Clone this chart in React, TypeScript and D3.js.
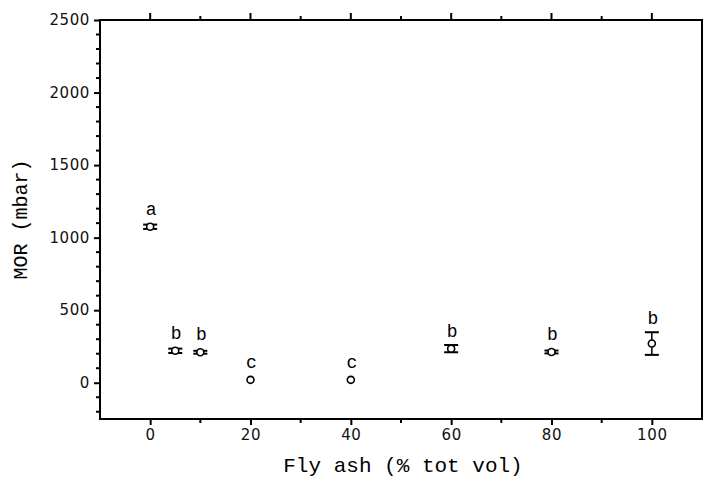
import React, { useEffect, useRef } from 'react'
import * as d3 from 'd3'

const flyAsh = [0, 5, 10, 20, 40, 60, 80, 100]
const mor = [1075, 220, 210, 20, 20, 235, 212, 270]
const err = [15, 15, 10, 0, 0, 25, 10, 78]
const groups = ['a', 'b', 'b', 'c', 'c', 'b', 'b', 'b']
const yTicks = [0, 500, 1000, 1500, 2000, 2500]
const xTicks = [0, 20, 40, 60, 80, 100]

const W = 704
const H = 481
const margin = { top: 20, right: 2, bottom: 62, left: 100 }

export default function App() {
  const svgNode = useRef<SVGSVGElement>(null)

  useEffect(() => {
    const svg = d3.select(svgNode.current)
    svg.selectAll('*').remove()

    const x = d3.scaleLinear().domain([-10, 110]).range([margin.left, W - margin.right])
    const y = d3.scaleLinear().domain([-250, 2500]).range([H - margin.bottom, margin.top])

    const x0 = margin.left, x1 = W - margin.right
    const y0 = H - margin.bottom, y1 = margin.top

    // frame
    svg.append('rect')
      .attr('x', x0).attr('y', y1)
      .attr('width', x1 - x0).attr('height', y0 - y1)
      .attr('fill', 'none').attr('stroke', '#000').attr('stroke-width', 2)

    // y axis
    const yAxis = d3.axisLeft(y).tickValues(yTicks).tickSize(6).tickSizeOuter(0)
      .tickFormat(d3.format('d'))
    const gy = svg.append('g').attr('transform', `translate(${x0},0)`).call(yAxis)
    gy.select('.domain').remove()
    gy.selectAll('line').attr('stroke-width', 2)
    gy.selectAll('text')
      .style('font-family', 'DejaVu Sans').style('font-size', 15)
      .attr('letter-spacing', 0.6).attr('x', -10).attr('fill', '#111')

    const yMinor = d3.range(-200, 2500, 100).filter(v => v % 500 !== 0)
    svg.append('g').selectAll('line').data(yMinor).join('line')
      .attr('x1', x0).attr('x2', x0 - 4)
      .attr('y1', d => y(d)).attr('y2', d => y(d))
      .attr('stroke', '#000').attr('stroke-width', 2)

    // x axis
    const xAxis = d3.axisBottom(x).tickValues(xTicks).tickSize(6).tickSizeOuter(0)
    const gx = svg.append('g').attr('transform', `translate(0,${y0})`).call(xAxis)
    gx.select('.domain').remove()
    gx.selectAll('line').attr('stroke-width', 2)
    gx.selectAll('text')
      .style('font-family', 'DejaVu Sans').style('font-size', 15)
      .attr('letter-spacing', 0.6).attr('y', 10).attr('fill', '#111')

    const xMinor = d3.range(10, 110, 20)
    svg.append('g').selectAll('line').data(xMinor).join('line')
      .attr('x1', d => x(d)).attr('x2', d => x(d))
      .attr('y1', y0).attr('y2', y0 + 4)
      .attr('stroke', '#000').attr('stroke-width', 2)

    // top ticks
    const topTicks = d3.range(0, 110, 10)
    svg.append('g').selectAll('line').data(topTicks).join('line')
      .attr('x1', d => x(d)).attr('x2', d => x(d))
      .attr('y1', y1).attr('y2', d => y1 - (d % 20 === 0 ? 7 : 4))
      .attr('stroke', '#000').attr('stroke-width', 2)

    // axis titles
    svg.append('text')
      .attr('x', (x0 + x1) / 2 + 2).attr('y', 472)
      .attr('text-anchor', 'middle')
      .style('font-family', 'Liberation Mono').style('font-size', 21)
      .text('Fly ash (% tot vol)')

    svg.append('text')
      .attr('transform', `translate(27,${(y0 + y1) / 2}) rotate(-90)`)
      .attr('text-anchor', 'middle')
      .style('font-family', 'Liberation Mono').style('font-size', 20)
      .text('MOR (mbar)')

    // data
    const pts = flyAsh.map((v, i) => ({ x: v, y: mor[i], e: err[i], g: groups[i] }))
    const g = svg.append('g')
    const cap = 7
    pts.filter(d => d.e > 0).forEach(d => {
      const cx = x(d.x)
      g.append('line').attr('x1', cx).attr('x2', cx)
        .attr('y1', y(d.y + d.e)).attr('y2', y(d.y - d.e))
        .attr('stroke', '#000').attr('stroke-width', 1.5)
      ;[d.y + d.e, d.y - d.e].forEach(v => {
        g.append('line').attr('x1', cx - cap).attr('x2', cx + cap)
          .attr('y1', y(v)).attr('y2', y(v))
          .attr('stroke', '#000').attr('stroke-width', 2)
      })
    })
    g.selectAll('circle').data(pts).join('circle')
      .attr('cx', d => x(d.x)).attr('cy', d => y(d.y)).attr('r', 3.5)
      .attr('fill', '#fff').attr('stroke', '#000').attr('stroke-width', 1.6)

    g.selectAll('text').data(pts).join('text')
      .attr('x', d => x(d.x) + 1)
      .attr('y', d => Math.min(y(d.y + d.e), y(d.y) - 4) - 8)
      .attr('text-anchor', 'middle')
      .style('font-family', 'Liberation Mono').style('font-size', 18)
      .text(d => d.g)
  }, [])

  return (
    <svg ref={svgNode} width={W} height={H}
      style={{ position: 'absolute', left: 0, top: 0, background: '#fff' }} />
  )
}
